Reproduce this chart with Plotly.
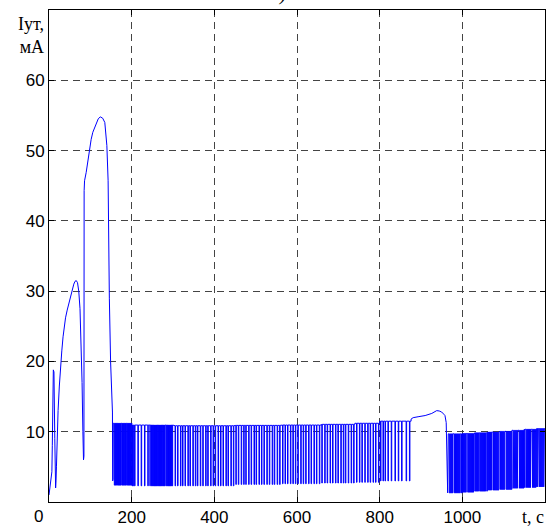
import plotly.graph_objects as go

# ---- data ----
# initial transient (t in s, I in mA)
ramp_t = [0, 3, 5, 7, 8, 9, 10.5, 12, 14, 16, 17, 18, 20, 22, 25, 28, 31, 34, 37, 40, 44, 48, 52,
          56, 60, 63, 66, 69, 72, 75, 78, 80, 82, 83.5, 84.5, 85, 86, 90, 94, 98, 102, 106, 112,
          119, 124, 130, 135, 137, 140, 143, 144, 146, 149, 151, 152.5, 153.5, 154, 155, 155.5, 156]
ramp_i = [1.0, 2.5, 4.0, 4.3, 8.0, 10.5, 18.8, 18.5, 9.0, 2.0, 3.0, 5.0, 10.5, 13.0, 16.5, 19.5,
          21.5, 23.5, 25.0, 26.2, 27.3, 28.3, 29.2, 30.2, 31.0, 31.4, 31.5, 31.2, 30.0, 27.5, 22.0,
          17.0, 10.0, 6.0, 6.5, 44.3, 45.7, 46.9, 48.6, 50.2, 51.6, 52.6, 53.5, 54.5, 54.8, 54.6,
          54.0, 52.6, 50.7, 45.7, 35.0, 29.0, 20.0, 15.0, 13.5, 12.8, 3.0, 3.2, 11.2, 11.2]

# pulsed segments: start, end, upper level, lower level, pulse width
seg_start = [156, 200, 300, 450, 560, 660, 740, 800,
             966, 1000, 1030, 1060, 1090, 1120, 1150, 1180]
seg_end = [200, 300, 450, 560, 660, 740, 800, 876,
           1000, 1030, 1060, 1090, 1120, 1150, 1180, 1200]
seg_high = [11.2, 10.95, 10.85, 10.9, 10.95, 11.05, 11.2, 11.5,
            9.7, 9.75, 9.85, 9.95, 10.05, 10.2, 10.35, 10.45]
seg_low = [2.4, 2.3, 2.3, 2.5, 2.6, 2.7, 2.8, 3.0,
           1.3, 1.4, 1.55, 1.7, 1.8, 1.95, 2.05, 2.15]
seg_width = [1.2, 1.2, 1.2, 1.2, 1.2, 1.2, 1.2, 1.2,
             1.5, 1.5, 1.5, 1.5, 1.5, 1.5, 1.5, 1.5]
n_first = 8  # segments before the smooth hump

# moments of the downward pulses
pulse_t = [
    158, 160, 162, 164.5, 167, 169, 171, 173, 176, 178, 180, 182, 184, 186, 189, 191, 193, 195,
    197, 199, 201, 203, 207, 215, 223, 231, 239, 244, 248, 250, 252, 254, 256, 258, 260, 262,
    264, 266, 268, 270, 272, 274, 276, 278, 280, 284, 286, 288, 290, 292, 294, 296, 298,
    305, 311, 318, 323, 329, 336, 341, 348, 354, 359, 366, 372, 379, 384, 391, 397, 402, 409,
    415, 421, 428, 433, 440, 446,
    452, 458, 465, 471, 476, 483, 489, 496, 501, 508, 514, 520, 527, 533, 540, 545, 552, 558,
    565, 571, 577, 584, 590, 596,
    602, 609, 615, 621, 628, 634, 641, 647, 654, 660, 667, 673, 680, 686, 693, 699, 706, 712, 717,
    724, 731, 737, 744, 751, 757, 764, 771, 777, 784, 790, 797,
    802, 808, 813, 820, 828, 837, 845, 853, 864, 872,
    968.5, 971, 973.5, 976, 981, 983.5, 986, 988.5, 991, 993.5, 998, 1000.5, 1003, 1005.5, 1008,
    1013, 1015.5, 1018, 1020.5, 1023, 1025.5, 1030, 1032.5, 1035, 1037.5, 1042, 1044.5, 1047,
    1049.5, 1052, 1054.5, 1059, 1061.5, 1064, 1066.5, 1069, 1074, 1076.5, 1079, 1081.5, 1084,
    1086.5, 1091, 1093.5, 1096, 1098.5, 1101, 1106, 1108.5, 1111, 1113.5, 1116, 1118.5, 1123,
    1125.5, 1128, 1130.5, 1133, 1138, 1140.5, 1143, 1145.5, 1148, 1150.5, 1155, 1157.5, 1160,
    1162.5, 1165, 1170, 1172.5, 1175, 1177.5, 1180, 1182.5, 1187, 1189.5, 1192, 1194.5, 1197]

# smooth hump before the second pulsed regime
hump_t = [876, 881, 895, 910, 926, 938, 944, 950, 955, 958, 961, 963, 964.5, 966]
hump_i = [11.8, 12.0, 12.15, 12.3, 12.6, 13.0, 12.95, 12.8, 12.5, 12.3, 11.3, 4.0, 1.3, 9.7]

x_ticks = [0, 200, 400, 600, 800, 1000, 1200]
x_labels = ["", "200", "400", "600", "800", "1000", ""]
y_ticks = [0, 10, 20, 30, 40, 50, 60, 70]
y_labels = ["", "10", "20", "30", "40", "50", "60", ""]

# ---- build the polyline ----
xs, ys = list(ramp_t), list(ramp_i)


def add_segment(k):
    s, e, hi, lo, w = seg_start[k], seg_end[k], seg_high[k], seg_low[k], seg_width[k]
    xs.append(s); ys.append(hi)
    for t in pulse_t:
        if s <= t < e:
            xs.extend([t, t, t + w, t + w])
            ys.extend([hi, lo, lo, hi])
    xs.append(e); ys.append(hi)


for k in range(n_first):
    add_segment(k)
xs.extend(hump_t); ys.extend(hump_i)
for k in range(n_first, len(seg_start)):
    add_segment(k)

fig = go.Figure()
fig.add_trace(go.Scatter(x=xs, y=ys, mode="lines",
                         line=dict(color="#0000ff", width=1), hoverinfo="skip"))

axis_common = dict(
    ticks="inside", ticklen=5, tickcolor="black", tickwidth=1,
    showline=True, linecolor="black", linewidth=1, mirror="ticks",
    showgrid=True, gridcolor="#444444", gridwidth=1, griddash="7px,5px",
    zeroline=False,
    tickfont=dict(family="Liberation Sans, Arial", size=17, color="black"),
)

fig.update_layout(
    width=548, height=529,
    margin=dict(l=49, r=2, t=10, b=23),
    plot_bgcolor="white", paper_bgcolor="white",
    showlegend=False,
    xaxis=dict(range=[0, 1200], tickvals=x_ticks, ticktext=x_labels, **axis_common),
    yaxis=dict(range=[0, 70], tickvals=y_ticks, ticktext=y_labels, **axis_common),
    annotations=[
        dict(text="Iут,<br>мА", xref="paper", yref="paper", x=-0.006, y=0.995,
             xanchor="right", yanchor="top", align="right", showarrow=False,
             font=dict(family="Liberation Serif, Times New Roman", size=18, color="black")),
        dict(text="t, c", xref="paper", yref="paper", x=1.002, y=-0.007,
             xanchor="right", yanchor="top", showarrow=False,
             font=dict(family="Liberation Serif, Times New Roman", size=18, color="black")),
        dict(text="0", xref="paper", yref="paper", x=-0.0215, y=-0.007,
             xanchor="center", yanchor="top", showarrow=False,
             font=dict(family="Liberation Sans, Arial", size=17, color="black")),
        dict(text="<i>а)</i>", xref="paper", yref="paper", x=0.463, y=1.006,
             xanchor="center", yanchor="bottom", showarrow=False,
             font=dict(family="Liberation Serif, Times New Roman", size=20, color="black")),
    ],
)

fig.write_html("out.html", config={"displayModeBar": False},
               post_script="document.body.style.margin='0';document.body.style.overflow='hidden';")
